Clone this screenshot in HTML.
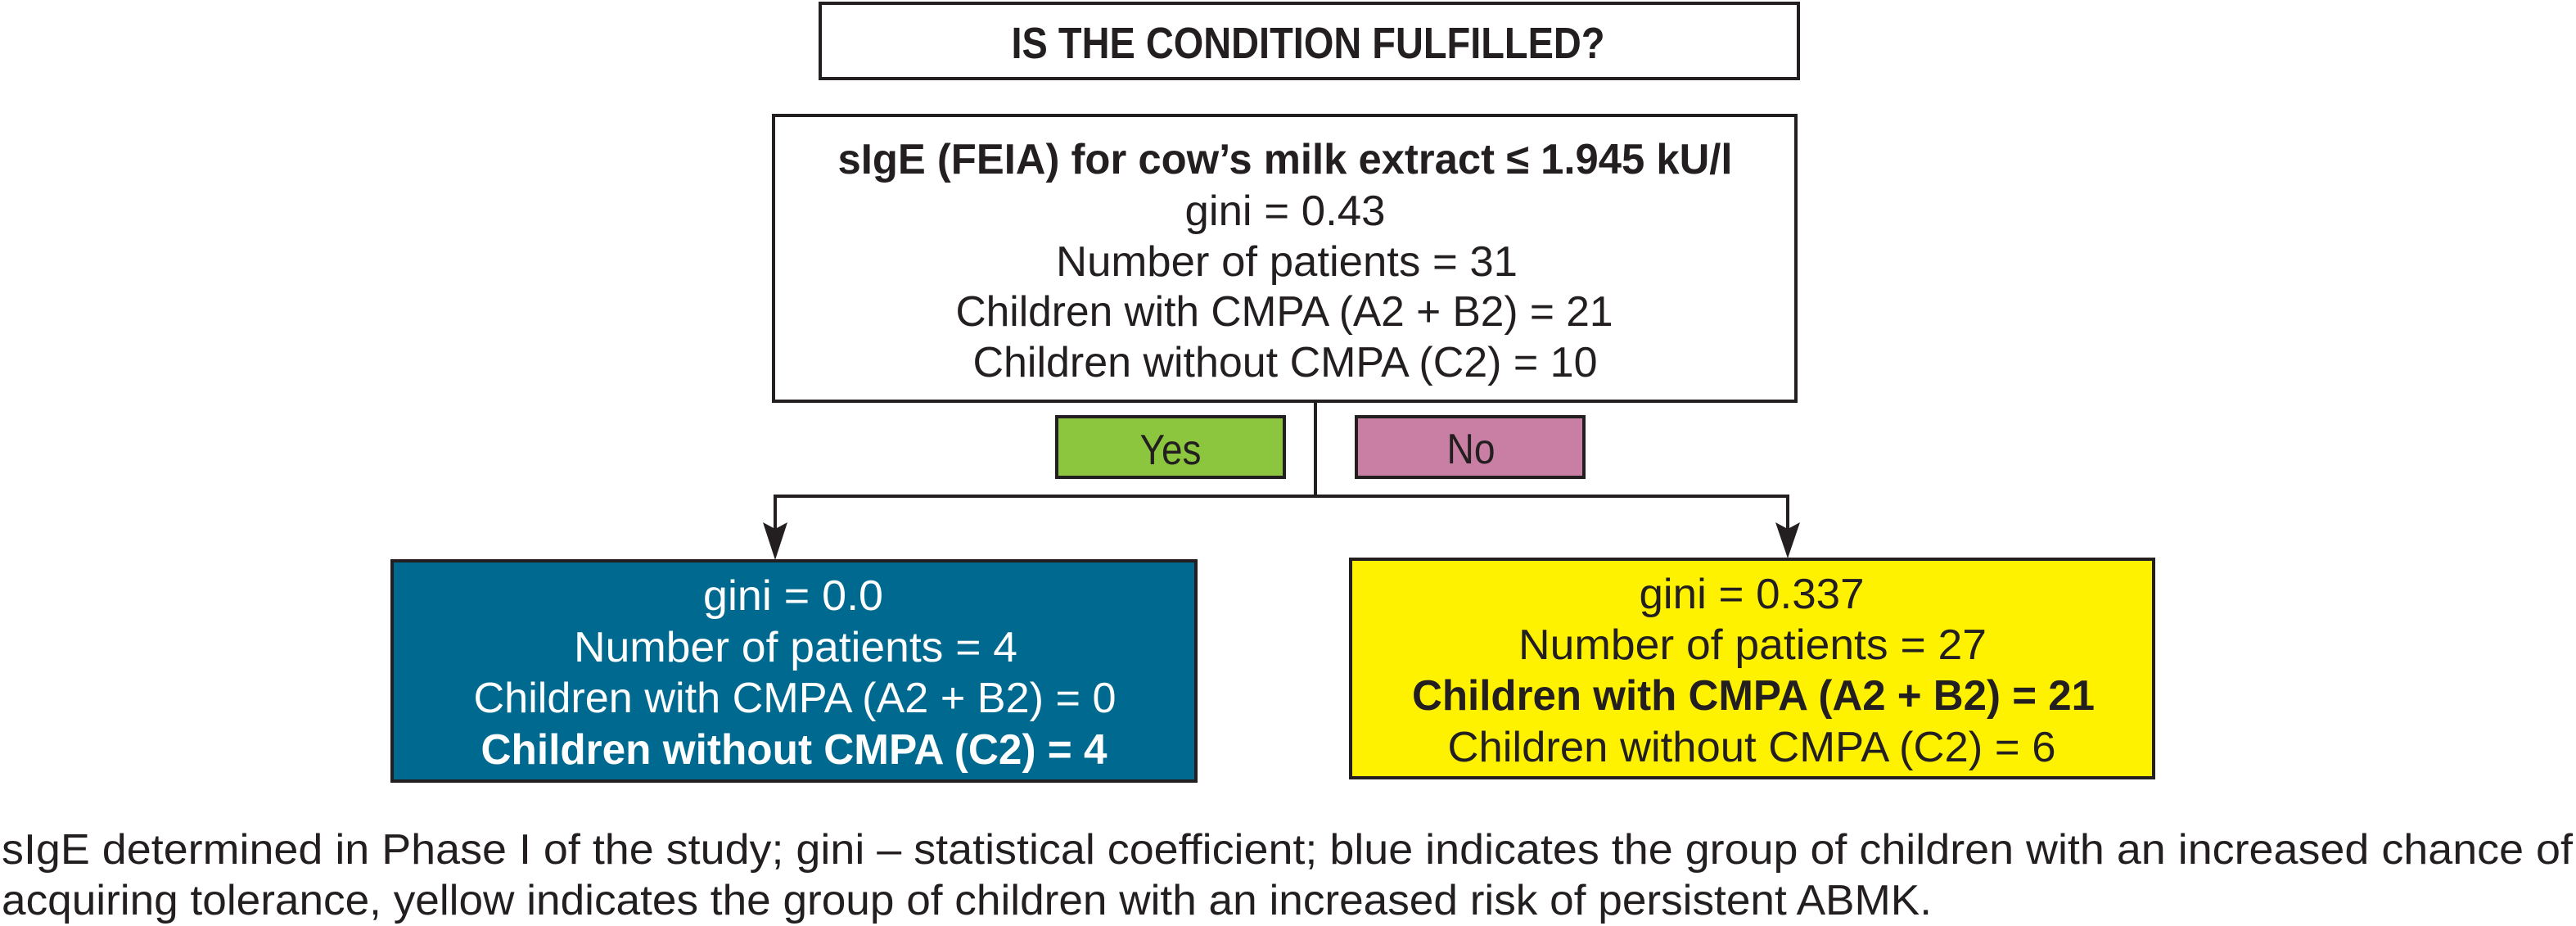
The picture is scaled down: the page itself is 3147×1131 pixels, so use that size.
<!DOCTYPE html>
<html>
<head>
<meta charset="utf-8">
<style>
html,body{margin:0;padding:0;background:#fff;}
svg{display:block;}
text{font-family:"Liberation Sans",sans-serif;fill:#231f20;}
</style>
</head>
<body>
<svg width="3147" height="1131" viewBox="0 0 3147 1131" xmlns="http://www.w3.org/2000/svg">
  <!-- title box -->
  <g>
    <rect x="1002" y="4" width="1195" height="92" fill="#fff" stroke="#231f20" stroke-width="4"/>
    <text x="1598" y="71" text-anchor="middle" font-size="54" font-weight="bold" textLength="725" lengthAdjust="spacingAndGlyphs">IS THE CONDITION FULFILLED?</text>
  </g>

  <!-- root node -->
  <g>
    <rect x="945" y="141" width="1249" height="349" fill="#fff" stroke="#231f20" stroke-width="4"/>
    <text x="1570" y="212" text-anchor="middle" font-size="52" font-weight="bold" textLength="1093" lengthAdjust="spacingAndGlyphs">sIgE (FEIA) for cow’s milk extract ≤ 1.945 kU/l</text>
    <text x="1570" y="275" text-anchor="middle" font-size="52" textLength="245" lengthAdjust="spacingAndGlyphs">gini = 0.43</text>
    <text x="1572" y="337" text-anchor="middle" font-size="52" textLength="564" lengthAdjust="spacingAndGlyphs">Number of patients = 31</text>
    <text x="1569" y="398" text-anchor="middle" font-size="52" textLength="803" lengthAdjust="spacingAndGlyphs">Children with CMPA (A2 + B2) = 21</text>
    <text x="1570" y="460" text-anchor="middle" font-size="52" textLength="763" lengthAdjust="spacingAndGlyphs">Children without CMPA (C2) = 10</text>
  </g>

  <!-- connectors -->
  <g stroke="#231f20" stroke-width="4" fill="none">
    <line x1="1607" y1="490" x2="1607" y2="606"/>
    <polyline points="947,648 947,606 2184,606 2184,648"/>
  </g>
  <polygon points="932,638 947,646 962,638 947,684" fill="#231f20"/>
  <polygon points="2169,638 2184,646 2199,638 2184,682" fill="#231f20"/>

  <!-- yes / no -->
  <g>
    <rect x="1291" y="509" width="278" height="74" fill="#8cc63f" stroke="#231f20" stroke-width="4"/>
    <text x="1430" y="567" text-anchor="middle" font-size="52" textLength="75" lengthAdjust="spacingAndGlyphs">Yes</text>
  </g>
  <g>
    <rect x="1657" y="509" width="278" height="74" fill="#c97ea3" stroke="#231f20" stroke-width="4"/>
    <text x="1797" y="566" text-anchor="middle" font-size="52" textLength="59" lengthAdjust="spacingAndGlyphs">No</text>
  </g>

  <!-- blue leaf -->
  <g>
    <rect x="479" y="685" width="982" height="269" fill="#006990" stroke="#231f20" stroke-width="4"/>
    <text x="969" y="745" text-anchor="middle" font-size="52" fill="#fff" style="fill:#fff" textLength="220" lengthAdjust="spacingAndGlyphs">gini = 0.0</text>
    <text x="972" y="808" text-anchor="middle" font-size="52" style="fill:#fff" textLength="542" lengthAdjust="spacingAndGlyphs">Number of patients = 4</text>
    <text x="971" y="870" text-anchor="middle" font-size="52" style="fill:#fff" textLength="785" lengthAdjust="spacingAndGlyphs">Children with CMPA (A2 + B2) = 0</text>
    <text x="970" y="933" text-anchor="middle" font-size="52" font-weight="bold" style="fill:#fff" textLength="765" lengthAdjust="spacingAndGlyphs">Children without CMPA (C2) = 4</text>
  </g>

  <!-- yellow leaf -->
  <g>
    <rect x="1650" y="683" width="981" height="267" fill="#fff200" stroke="#231f20" stroke-width="4"/>
    <text x="2140" y="743" text-anchor="middle" font-size="52" textLength="275" lengthAdjust="spacingAndGlyphs">gini = 0.337</text>
    <text x="2141" y="805" text-anchor="middle" font-size="52" textLength="572" lengthAdjust="spacingAndGlyphs">Number of patients = 27</text>
    <text x="2142" y="867" text-anchor="middle" font-size="52" font-weight="bold" textLength="834" lengthAdjust="spacingAndGlyphs">Children with CMPA (A2 + B2) = 21</text>
    <text x="2140" y="930" text-anchor="middle" font-size="52" textLength="743" lengthAdjust="spacingAndGlyphs">Children without CMPA (C2) = 6</text>
  </g>

  <!-- caption -->
  <g>
    <text x="2" y="1055" font-size="52" textLength="3141" lengthAdjust="spacingAndGlyphs">sIgE determined in Phase I of the study; gini – statistical coefficient; blue indicates the group of children with an increased chance of</text>
    <text x="2" y="1117" font-size="52" textLength="2358" lengthAdjust="spacingAndGlyphs">acquiring tolerance, yellow indicates the group of children with an increased risk of persistent ABMK.</text>
  </g>
</svg>
</body>
</html>
